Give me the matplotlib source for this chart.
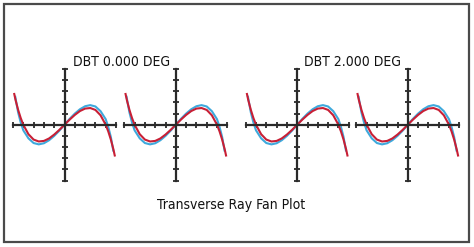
import matplotlib
matplotlib.use("Agg")
import matplotlib.pyplot as plt
from matplotlib import font_manager
from matplotlib.patches import Rectangle

# Datos (unidades de las marcas de los ejes).
red_u = [-4.9, -4.75, -4.5, -4.25, -4.0, -3.5, -3.0, -2.5, -2.0, -1.5, -1.0, -0.5, 0.0,
         0.5, 1.0, 1.5, 2.0, 2.5, 3.0, 3.5, 4.0, 4.25, 4.5, 4.75, 4.9]
red_v = [2.85, 2.21, 1.33, 0.60, 0.0, -0.85, -1.33, -1.50, -1.45, -1.23, -0.88, -0.46, 0.0,
         0.46, 0.88, 1.23, 1.45, 1.50, 1.33, 0.85, 0.0, -0.60, -1.33, -2.21, -2.85]
blue_u = [-4.8, -4.5, -4.25, -4.0, -3.5, -3.0, -2.5, -2.0, -1.5, -1.0, -0.5, 0.0,
          0.5, 1.0, 1.5, 2.0, 2.5, 3.0, 3.5, 4.0, 4.25, 4.5, 4.75]
blue_v = [2.6, 1.1, 0.2, -0.5, -1.22, -1.64, -1.76, -1.66, -1.39, -1.0, -0.53, 0.0,
          0.53, 1.0, 1.39, 1.66, 1.76, 1.64, 1.22, 0.5, -0.2, -1.1, -2.4]
ticks = [-5, -4, -3, -2, -1, 0, 1, 2, 3, 4, 5]
titles = ["DBT 0.000 DEG", "DBT 2.000 DEG"]
caption = "Transverse Ray Fan Plot"

# Buscar alguna fuente angosta instalada; si no hay, Liberation Sans más chica.
narrow = [f for f in font_manager.fontManager.ttflist
          if ("Narrow" in f.name or "Condensed" in f.name
              or f.stretch in ("condensed", "semi-condensed", "extra-condensed"))]
if narrow:
    font = dict(family=narrow[0].name, stretch=narrow[0].stretch, fontsize=10)
else:
    font = dict(family="Liberation Sans", fontsize=9.5)

W, H = 474, 247
fig = plt.figure(figsize=(W / 100, H / 100), dpi=100)

# Marco gris alrededor de todo.
fig.add_artist(Rectangle((4 / W, 5 / H), 465 / W, 238 / H, transform=fig.transFigure,
                         fill=False, edgecolor="#4a4a4a", linewidth=1.6))

centers = [64.5, 175.8, 297.2, 407.8]   # centro en px de cada panel
for cx in centers:
    ax = fig.add_axes([(cx - 51.5) / W, (H - 180.5) / H, 103 / W, 111.5 / H])
    ax.set_xlim(-5, 5)
    ax.set_ylim(-5, 5)
    ax.patch.set_alpha(0)
    for s in ["top", "right"]:
        ax.spines[s].set_visible(False)
    for s in ["left", "bottom"]:
        ax.spines[s].set_position("zero")
        ax.spines[s].set_linewidth(1.6)
        ax.spines[s].set_color("#2a2a2a")
    ax.set_xticks(ticks)
    ax.set_yticks(ticks)
    ax.set_xticklabels([])
    ax.set_yticklabels([])
    ax.tick_params(direction="inout", length=5, width=1.3, color="#2a2a2a")
    ax.plot(blue_u, blue_v, color="#3ea9dc", lw=1.5, clip_on=False, solid_capstyle="butt")
    ax.plot(red_u, red_v, color="#c81f35", lw=1.5, clip_on=False, solid_capstyle="butt")

fig.text(122 / W, 1 - 62.5 / H, titles[0], ha="center", va="center",
         color="#111111", **font)
fig.text(352.5 / W, 1 - 62.5 / H, titles[1], ha="center", va="center",
         color="#111111", **font)
fig.text(231 / W, 1 - 205 / H, caption, ha="center", va="center",
         color="#111111", **font)

fig.savefig("out.png", dpi=100)
